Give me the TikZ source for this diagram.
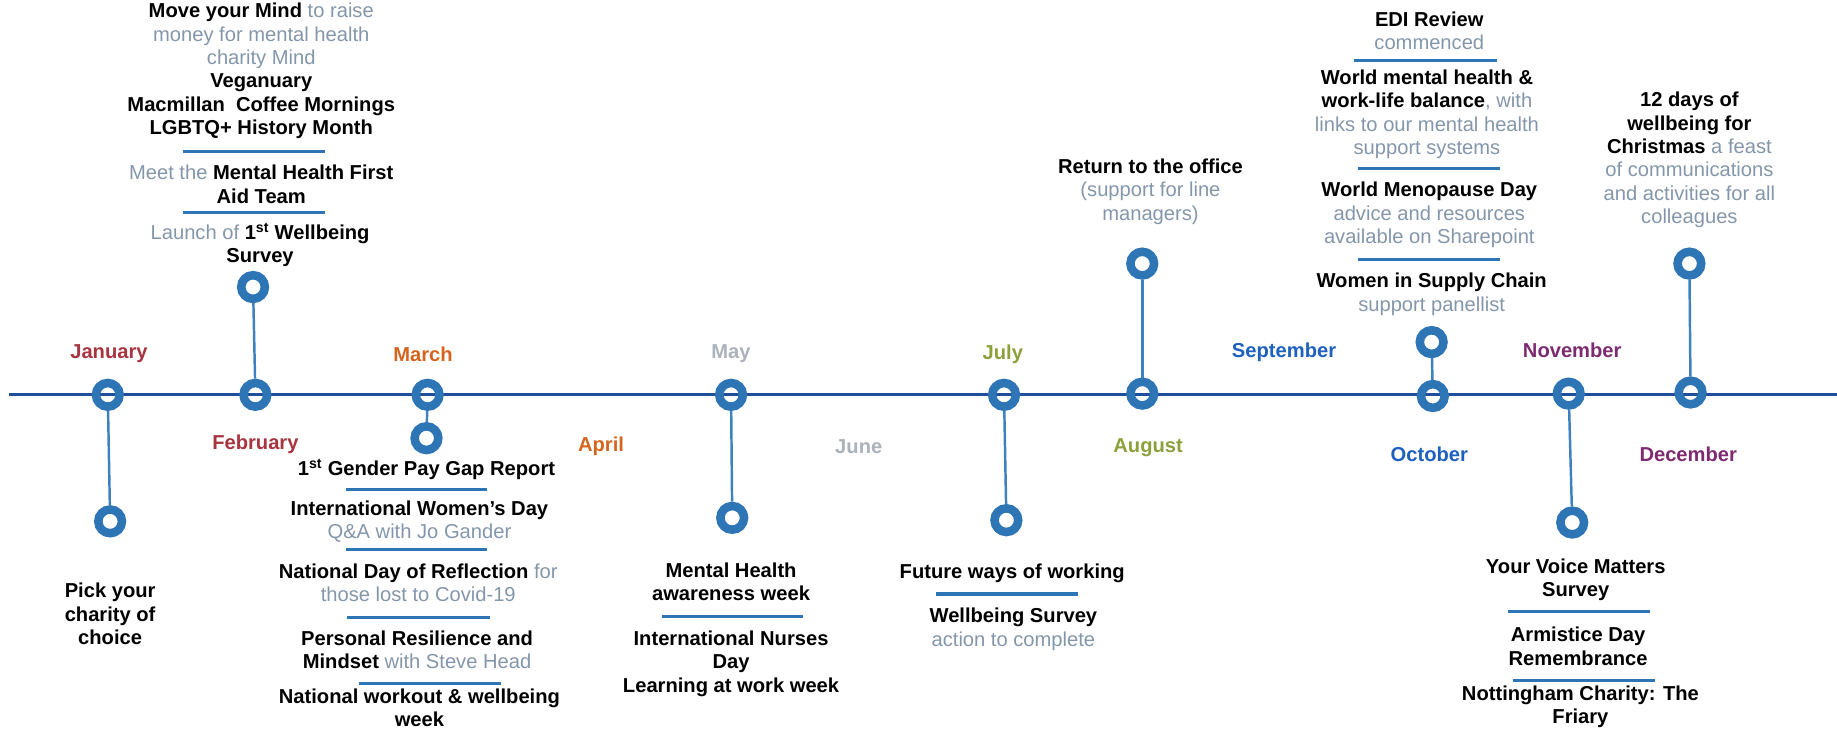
\documentclass[tikz,border=0pt]{standalone}
\usepackage{fontspec}
\setmainfont{Liberation Sans}
\definecolor{cRing}{RGB}{46,117,182}
\definecolor{cAxis}{RGB}{31,78,155}
\definecolor{cConn}{RGB}{62,128,192}
\definecolor{cDesc}{RGB}{132,150,170}
\definecolor{mJF}{RGB}{167,52,62}
\definecolor{mMA}{RGB}{212,100,30}
\definecolor{mMJ}{RGB}{172,178,186}
\definecolor{mJA}{RGB}{140,160,60}
\definecolor{mSO}{RGB}{30,96,190}
\definecolor{mND}{RGB}{125,42,112}
\newcommand{\dsc}[1]{{\mdseries\color{cDesc}#1}}
\begin{document}
\begin{tikzpicture}[x=1pt,y=-1pt,
  ringnode/.style={circle,draw=cRing,line width=7.3pt,minimum size=20.2pt,inner sep=0pt},
  connline/.style={draw=cConn,line width=2.1pt},
  sepline/.style={draw=cRing,line width=2.6pt},
  axisline/.style={draw=cAxis,line width=2.8pt},
  month/.style={font=\bfseries\fontsize{17.2}{20}\selectfont,inner sep=0pt},
  evt/.style={font=\bfseries\fontsize{17.2}{19.9}\selectfont,align=center,inner sep=0pt,text=black},
]
\useasboundingbox (0,0) rectangle (1568,622.2);
\coordinate (tlA) at (8,337);
\coordinate (tlB) at (1568,337);
\draw[axisline] (tlA) -- (tlB);

% circles
\node[ringnode] (jan) at (92,337) {};
\node[ringnode] (jan2) at (94,445) {};
\node[ringnode] (feb) at (218,337) {};
\node[ringnode] (feb2) at (216,245) {};
\node[ringnode] (mar) at (365,337) {};
\node[ringnode] (mar2) at (364,374) {};
\node[ringnode] (may) at (624,337) {};
\node[ringnode] (may2) at (625,442) {};
\node[ringnode] (jul) at (857,337) {};
\node[ringnode] (jul2) at (859,444) {};
\node[ringnode] (aug) at (975,336) {};
\node[ringnode] (aug2) at (975,225) {};
\node[ringnode] (oct) at (1223,338) {};
\node[ringnode] (oct2) at (1222,292) {};
\node[ringnode] (nov) at (1339,336) {};
\node[ringnode] (nov2) at (1342,446) {};
\node[ringnode] (dec) at (1443,335) {};
\node[ringnode] (dec2) at (1442,225) {};

\draw[connline] (jan) -- (jan2);
\draw[connline] (feb) -- (feb2);
\draw[connline] (mar) -- (mar2);
\draw[connline] (may) -- (may2);
\draw[connline] (jul) -- (jul2);
\draw[connline] (aug) -- (aug2);
\draw[connline] (oct) -- (oct2);
\draw[connline] (nov) -- (nov2);
\draw[connline] (dec) -- (dec2);

% month labels
\node[month,text=mJF] (lJan) at (93,301.6) {January};
\node[month,text=mJF] (lFeb) at (218,379) {February};
\node[month,text=mMA] (lMar) at (361,302) {March};
\node[month,text=mMA] (lApr) at (513,381) {April};
\node[month,text=mMJ] (lMay) at (624,302) {May};
\node[month,text=mMJ] (lJun) at (733,381) {June};
\node[month,text=mJA] (lJul) at (856,302) {July};
\node[month,text=mJA] (lAug) at (980,382) {August};
\node[month,text=mSO] (lSep) at (1096,301) {September};
\node[month,text=mSO] (lOct) at (1220,387.5) {October};
\node[month,text=mND] (lNov) at (1342,299.3) {November};
\node[month,text=mND] (lDec) at (1441,387.5) {December};

% January
\node[evt] (eJan) at (94,524) {Pick your\\charity of\\choice};

% February
\node[evt] (eFeb1) at (223,60.6) {Move your Mind \dsc{to raise}\\\dsc{money for mental health}\\\dsc{charity Mind}\\Veganuary\\Macmillan\ \ Coffee Mornings\\LGBTQ+ History Month};
\draw[sepline] (156,129) -- (277,129);
\node[evt] (eFeb2) at (223,157.4) {\dsc{Meet the} Mental Health First\\Aid Team};
\draw[sepline] (156,181) -- (277,181);
\node[evt] (eFeb3) at (222,209) {\dsc{Launch of} 1\textsuperscript{st} Wellbeing\\Survey};

% March
\node[evt] (eMar1) at (364,401) {1\textsuperscript{st} Gender Pay Gap Report};
\draw[sepline] (295,418) -- (416,418);
\node[evt] (eMar2) at (358,445) {International Women’s Day\\\dsc{Q\&A with Jo Gander}};
\draw[sepline] (295,469) -- (416,469);
\node[evt] (eMar3) at (357,497.5) {National Day of Reflection \dsc{for}\\\dsc{those lost to Covid-19}};
\draw[sepline] (296,527) -- (418,527);
\node[evt] (eMar4) at (356,554.5) {Personal Resilience and\\Mindset \dsc{with Steve Head}};
\draw[sepline] (306,583) -- (428,583);
\node[evt] (eMar5) at (358,604) {National workout \& wellbeing\\week};

% May
\node[evt] (eMay1) at (624,496.5) {Mental Health\\awareness week};
\draw[sepline] (565,526) -- (685,526);
\node[evt] (eMay2) at (624,566.5) {International Nurses\\Day\\Learning at work week};

% July
\node[evt] (eJul1) at (864,489) {Future ways of working};
\draw[sepline] (799,507) -- (920,507);
\node[evt] (eJul2) at (865,537) {Wellbeing Survey\\\dsc{action to complete}};

% August
\node[evt] (eAug) at (982,163.5) {Return to the office\\\dsc{(support for line}\\\dsc{managers)}};

% October
\node[evt] (eOct1) at (1220,26.5) {EDI Review\\\dsc{commenced}};
\draw[sepline] (1156,52) -- (1278,52);
\node[evt] (eOct2) at (1218,97.5) {World mental health \&\\work-life balance\dsc{, with}\\\dsc{links to our mental health}\\\dsc{support systems}};
\draw[sepline] (1159,143.7) -- (1280,143.7);
\node[evt] (eOct3) at (1220,183.5) {World Menopause Day\\\dsc{advice and resources}\\\dsc{available on Sharepoint}};
\draw[sepline] (1159,221.4) -- (1280,221.4);
\node[evt] (eOct4) at (1222,251.2) {Women in Supply Chain\\\dsc{support panellist}};

% November
\node[evt] (eNov1) at (1345,494.8) {Your Voice Matters\\Survey};
\draw[sepline] (1287,522) -- (1408,522);
\node[evt] (eNov2) at (1347,551.7) {Armistice Day\\Remembrance};
\draw[sepline] (1291,581) -- (1413,581);
\node[evt] (eNov3) at (1349,603.4) {Nottingham Charity: The\\Friary};

% December
\node[evt] (eDec) at (1442,136.5) {12 days of\\wellbeing for\\Christmas \dsc{a feast}\\\dsc{of communications}\\\dsc{and activities for all}\\\dsc{colleagues}};
\end{tikzpicture}
\end{document}
